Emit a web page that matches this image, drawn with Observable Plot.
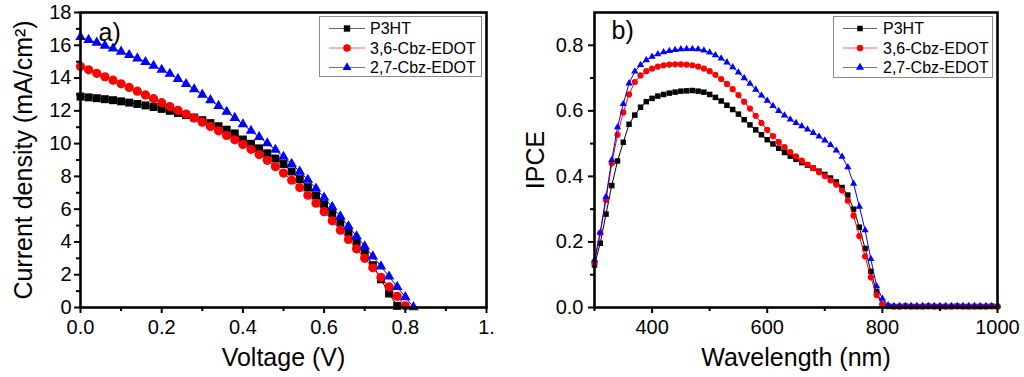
<!DOCTYPE html>
<html><head><meta charset="utf-8">
<script src="https://cdn.jsdelivr.net/npm/d3@7"></script>
<script src="https://cdn.jsdelivr.net/npm/@observablehq/plot@0.6"></script>
<style>
body{margin:0;background:#fff;}
#wrap{position:relative;width:1024px;height:377px;overflow:hidden;background:#fff;}
.panel{position:absolute;top:0;}
.legend{position:absolute;}
</style></head><body><div id="wrap"></div>
<script>
// ---------- data: panel a (J-V) ----------
const seriesNames = ["P3HT", "3,6-Cbz-EDOT", "2,7-Cbz-EDOT"];
const seriesColors = ["#000000", "#ff0000", "#0000ff"];
const voltage = [0,0.02,0.04,0.06,0.08,0.10,0.12,0.14,0.16,0.18,0.20,0.22,0.24,0.26,0.28,0.30,0.32,0.34,0.36,0.38,0.40,0.42,0.44,0.46,0.48,0.50,0.52,0.54,0.56,0.58,0.60,0.62,0.64,0.66,0.68,0.70,0.72,0.74,0.76,0.78,0.80,0.82];
const jP3HT = [12.87,12.82,12.77,12.71,12.65,12.58,12.50,12.42,12.33,12.23,12.12,12.00,11.87,11.74,11.59,11.43,11.25,11.06,10.85,10.62,10.25,9.99,9.71,9.41,9.09,8.75,8.30,7.83,7.34,6.83,6.30,5.75,5.18,4.59,3.97,3.32,2.58,1.72,0.85,0.10];
const j36 = [14.70,14.50,14.29,14.08,13.87,13.65,13.43,13.20,12.97,12.74,12.50,12.26,12.03,11.80,11.56,11.31,11.05,10.78,10.50,10.23,9.95,9.65,9.33,8.98,8.60,8.20,7.77,7.32,6.85,6.36,5.85,5.29,4.72,4.15,3.58,3.00,2.42,1.84,1.26,0.68,0.10];
const j27 = [16.50,16.33,16.16,15.98,15.80,15.61,15.41,15.20,14.98,14.75,14.51,14.26,13.95,13.64,13.32,12.99,12.65,12.30,11.94,11.57,11.18,10.78,10.40,10.02,9.62,9.20,8.76,8.29,7.79,7.26,6.71,6.14,5.56,4.96,4.35,3.73,3.12,2.51,1.89,1.26,0.63,0.02];
const xTicksA = [0, 0.2, 0.4, 0.6, 0.8, 1.0];
const xTickLabelsA = ["0.0", "0.2", "0.4", "0.6", "0.8", "1."];
const xMinorA = [0.1, 0.3, 0.5, 0.7, 0.9];
const yTicksA = [0, 2, 4, 6, 8, 10, 12, 14, 16, 18];
const yMinorA = [1, 3, 5, 7, 9, 11, 13, 15, 17];

// ---------- data: panel b (IPCE) ----------
const wavelength = [300,310,320,330,340,350,360,370,380,390,400,410,420,430,440,450,460,470,480,490,500,510,520,530,540,550,560,570,580,590,600,610,620,630,640,650,660,670,680,690,700,710,720,730,740,750,760,770,780,790,800,810,820,830,840,850,860,870,880,890,900,910,920,930,940,950,960,970,980,990,1000];
const ipceP3HT = [0.130,0.196,0.285,0.372,0.447,0.504,0.559,0.587,0.611,0.628,0.638,0.645,0.650,0.654,0.657,0.660,0.661,0.662,0.660,0.657,0.650,0.641,0.630,0.617,0.604,0.590,0.573,0.557,0.542,0.527,0.512,0.499,0.486,0.473,0.462,0.452,0.442,0.434,0.425,0.416,0.406,0.395,0.383,0.366,0.343,0.300,0.245,0.180,0.110,0.048,0.010,0.004,0.003,0.003,0.004,0.003,0.003,0.003,0.004,0.003,0.003,0.003,0.003,0.004,0.003,0.003,0.003,0.003,0.003,0.004,0.003];
const ipce36 = [0.135,0.227,0.328,0.440,0.527,0.595,0.650,0.688,0.708,0.721,0.729,0.735,0.739,0.741,0.742,0.742,0.741,0.739,0.735,0.729,0.721,0.710,0.697,0.682,0.666,0.648,0.628,0.607,0.585,0.563,0.542,0.523,0.505,0.489,0.474,0.461,0.448,0.436,0.425,0.413,0.401,0.388,0.375,0.357,0.326,0.280,0.218,0.156,0.092,0.038,0.009,0.004,0.003,0.003,0.003,0.003,0.003,0.003,0.003,0.003,0.003,0.003,0.003,0.003,0.003,0.003,0.003,0.003,0.003,0.003,0.003];
const ipce27 = [0.145,0.229,0.338,0.450,0.550,0.621,0.684,0.720,0.740,0.755,0.765,0.773,0.779,0.783,0.786,0.788,0.789,0.789,0.788,0.784,0.778,0.770,0.760,0.748,0.733,0.717,0.700,0.683,0.665,0.647,0.631,0.615,0.600,0.586,0.574,0.563,0.553,0.543,0.533,0.522,0.510,0.496,0.479,0.460,0.428,0.378,0.308,0.236,0.148,0.065,0.027,0.007,0.005,0.005,0.005,0.005,0.005,0.005,0.005,0.005,0.005,0.005,0.005,0.005,0.005,0.005,0.005,0.005,0.005,0.005,0.005];
const xTicksB = [400, 600, 800, 1000];
const xMinorB = [300, 500, 700, 900];
const yTicksB = [0, 0.2, 0.4, 0.6, 0.8];
const yTickLabelsB = ["0.0", "0.2", "0.4", "0.6", "0.8"];
const yMinorB = [0.1, 0.3, 0.5, 0.7];

// ---------- drawing ----------
const FONT = '"Liberation Sans", Arial, Helvetica, sans-serif';
const symbols = ["square", "circle", "triangle"];
const wrap = document.getElementById("wrap");

function rows(xs, ys) { return ys.map((y, i) => ({x: xs[i], y})); }

function seriesMarks(data, rs) {
  const m = [];
  data.forEach((d, k) => {
    m.push(Plot.line(d, {x: "x", y: "y", stroke: seriesColors[k], strokeWidth: 1}));
    m.push(Plot.dot(d, {x: "x", y: "y", symbol: symbols[k], fill: seriesColors[k], stroke: "none", r: rs[k]}));
  });
  return m;
}

function axes(xMaj, xMin, xFmt, yMaj, yMin, yFmt, yPad) {
  return [
    Plot.frame({stroke: "black", strokeWidth: 2.6}),
    Plot.axisX(xMaj, {anchor: "bottom", tickSize: 6, tickPadding: 6, strokeWidth: 2, fontSize: 20, tickFormat: xFmt, label: null}),
    Plot.axisX(xMin, {anchor: "bottom", tickSize: 4, strokeWidth: 2, tickFormat: () => "", label: null}),
    Plot.axisY(yMaj, {anchor: "left", tickSize: 6, tickPadding: yPad, strokeWidth: 2, fontSize: 20, tickFormat: yFmt, label: null}),
    Plot.axisY(yMin, {anchor: "left", tickSize: 4, strokeWidth: 2, tickFormat: () => "", label: null})
  ];
}

const style = {fontFamily: FONT, fontSize: "20px", color: "black", background: "transparent", overflow: "visible"};

// Panel a
const dataA = [rows(voltage, jP3HT), rows(voltage, j36), rows(voltage, j27)];
const plotA = Plot.plot({
  width: 512, height: 377, marginLeft: 80, marginRight: 26, marginTop: 12, marginBottom: 70,
  x: {domain: [0, 1], label: null},
  y: {domain: [0, 18], label: null},
  style,
  marks: [
    ...seriesMarks(dataA, [4.5, 4.6, 3.9]),
    ...axes(xTicksA, xMinorA, d => xTickLabelsA[xTicksA.indexOf(d)], yTicksA, yMinorA, d => String(d), 3),
    Plot.text(["Voltage (V)"], {frameAnchor: "bottom", textAnchor: "middle", lineAnchor: "middle", dy: 50, fontSize: 25}),
    Plot.text(["Current density (mA/cm²)"], {frameAnchor: "left", textAnchor: "middle", lineAnchor: "middle", rotate: -90, dx: -57, fontSize: 25}),
    Plot.text(["a)"], {frameAnchor: "top-left", textAnchor: "start", lineAnchor: "middle", dx: 18, dy: 20, fontSize: 25})
  ]
});
plotA.classList.add("panel");
plotA.style.left = "0px";
wrap.appendChild(plotA);

// Panel b
const dataB = [rows(wavelength, ipceP3HT), rows(wavelength, ipce36), rows(wavelength, ipce27)];
const plotB = Plot.plot({
  width: 512, height: 377, marginLeft: 82, marginRight: 27, marginTop: 12, marginBottom: 70,
  x: {domain: [300, 1000], label: null},
  y: {domain: [0, 0.9], label: null},
  style,
  marks: [
    ...seriesMarks(dataB, [3.1, 3.1, 2.7]),
    ...axes(xTicksB, xMinorB, d => String(d), yTicksB, yMinorB, d => yTickLabelsB[yTicksB.indexOf(d)], 5),
    Plot.text(["Wavelength (nm)"], {frameAnchor: "bottom", textAnchor: "middle", lineAnchor: "middle", dy: 50, fontSize: 25}),
    Plot.text(["IPCE"], {frameAnchor: "left", textAnchor: "middle", lineAnchor: "middle", rotate: -90, dx: -59, fontSize: 25}),
    Plot.text(["b)"], {frameAnchor: "top-left", textAnchor: "start", lineAnchor: "middle", dx: 17, dy: 18, fontSize: 25})
  ]
});
plotB.classList.add("panel");
plotB.style.left = "512px";
wrap.appendChild(plotB);

// Legends
function legend(left, top, w, h, lineX0, lineX1, markX, textX, rs) {
  const svg = d3.create("svg").attr("class", "legend").attr("width", w + 2).attr("height", h + 2)
    .style("left", left + "px").style("top", top + "px");
  svg.append("rect").attr("x", 0.5).attr("y", 0.5).attr("width", w).attr("height", h)
    .attr("fill", "white").attr("stroke", "#8a8a8a").attr("stroke-width", 1);
  const syms = [d3.symbolSquare, d3.symbolCircle, d3.symbolTriangle];
  seriesNames.forEach((name, k) => {
    const y = 12.5 + k * 19.5;
    svg.append("line").attr("x1", lineX0).attr("x2", lineX1).attr("y1", y).attr("y2", y)
      .attr("stroke", seriesColors[k]).attr("stroke-width", 1).attr("opacity", 0.6);
    svg.append("path").attr("d", d3.symbol(syms[k], Math.PI * rs[k] * rs[k])())
      .attr("transform", `translate(${markX},${y})`).attr("fill", seriesColors[k]);
    svg.append("text").attr("x", textX).attr("y", y).attr("dy", "0.36em")
      .attr("font-family", FONT).attr("font-size", 16).attr("fill", "black").text(name);
  });
  wrap.appendChild(svg.node());
}
legend(319, 16, 162, 60, 10, 46, 28, 51, [3.6, 3.8, 3.3]);
legend(833, 16, 159, 61, 10, 44, 27, 50, [3.1, 3.2, 3.0]);
</script></body></html>
